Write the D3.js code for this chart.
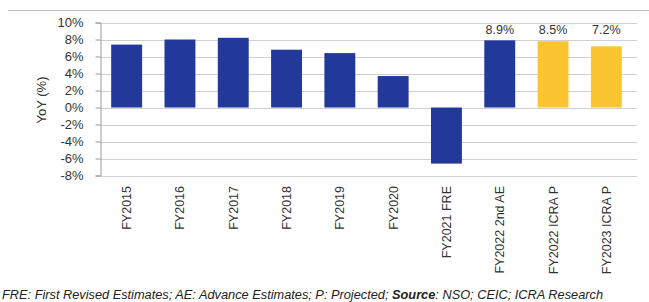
<!DOCTYPE html>
<html>
<head>
<meta charset="utf-8">
<script src="https://cdn.jsdelivr.net/npm/d3@7/dist/d3.min.js"></script>
<style>
  body { margin: 0; background: #fff; }
  svg { display: block; }
</style>
</head>
<body>
<div id="chart"></div>
<script>
const categories = ["FY2015", "FY2016", "FY2017", "FY2018", "FY2019", "FY2020",
  "FY2021 FRE", "FY2022 2nd AE", "FY2022 ICRA P", "FY2023 ICRA P"];
const values = [7.4, 8.0, 8.2, 6.8, 6.4, 3.7, -6.6, 7.9, 7.8, 7.2];
const kinds = ["actual", "actual", "actual", "actual", "actual", "actual",
  "actual", "actual", "projected", "projected"];
const dataLabels = [null, null, null, null, null, null, null, "8.9%", "8.5%", "7.2%"];
const yTicks = [-8, -6, -4, -2, 0, 2, 4, 6, 8, 10];

const width = 649, height = 302;
const svg = d3.select("#chart").append("svg")
  .attr("width", width).attr("height", height);

const x = d3.scaleBand().domain(categories).range([100, 633]).paddingInner(0.42).paddingOuter(0.21);
const y = d3.scaleLinear().domain([-8, 10]).range([175.5, 22.5]);

// cropped frame line at top
svg.append("line")
  .attr("x1", 8).attr("x2", width).attr("y1", 10.5).attr("y2", 10.5)
  .attr("stroke", "#bdbdbd").attr("stroke-width", 1);

// gridlines
svg.append("g")
  .selectAll("line")
  .data(yTicks)
  .join("line")
  .attr("x1", 100).attr("x2", 637)
  .attr("y1", d => Math.round(y(d)) + 0.5).attr("y2", d => Math.round(y(d)) + 0.5)
  .attr("stroke", "#cfcfcf").attr("stroke-width", 1);

// y axis
const yAxis = svg.append("g")
  .attr("transform", "translate(100.5,0)")
  .call(d3.axisLeft(y).tickValues(yTicks).tickSize(5).tickPadding(12).tickFormat(d => d + "%"));
yAxis.select(".domain").attr("stroke", "#9a9a9a");
yAxis.selectAll(".tick line").attr("stroke", "#9a9a9a");
yAxis.selectAll("text")
  .attr("font-family", "Liberation Sans, Arial, sans-serif")
  .attr("font-size", 13).attr("fill", "#333");

svg.append("text")
  .attr("transform", "translate(46,100) rotate(-90)")
  .attr("text-anchor", "middle")
  .attr("font-family", "Liberation Sans, Arial, sans-serif")
  .attr("font-size", 13).attr("fill", "#333")
  .text("YoY (%)");

// bars
const color = { actual: "#22399b", projected: "#fbc531" };
svg.append("g")
  .selectAll("rect")
  .data(categories)
  .join("rect")
  .attr("x", d => x(d))
  .attr("width", x.bandwidth())
  .attr("y", (d, i) => y(Math.max(0, values[i])))
  .attr("height", (d, i) => Math.abs(y(values[i]) - y(0)))
  .attr("fill", (d, i) => color[kinds[i]]);

// data labels
svg.append("g")
  .selectAll("text")
  .data(categories.filter((d, i) => dataLabels[i]))
  .join("text")
  .attr("x", d => x(d) + x.bandwidth() / 2)
  .attr("y", 34)
  .attr("text-anchor", "middle")
  .attr("font-family", "Liberation Sans, Arial, sans-serif")
  .attr("font-size", 12.5).attr("fill", "#333")
  .text(d => dataLabels[categories.indexOf(d)]);

// x labels, rotated
svg.append("g")
  .selectAll("text")
  .data(categories)
  .join("text")
  .attr("transform", d => `translate(${x(d) + x.bandwidth() / 2 + 4.5},186) rotate(-90)`)
  .attr("text-anchor", "end")
  .attr("font-family", "Liberation Sans, Arial, sans-serif")
  .attr("font-size", 12.5).attr("fill", "#333")
  .text(d => d);

// footnote
const note = svg.append("text")
  .attr("x", 2).attr("y", 299)
  .attr("font-family", "Liberation Sans Narrow, Liberation Sans, sans-serif")
  .attr("font-style", "italic")
  .attr("font-size", 12.5).attr("fill", "#222")
  .attr("textLength", 601).attr("lengthAdjust", "spacingAndGlyphs");
note.append("tspan").text("FRE: First Revised Estimates; AE: Advance Estimates; P: Projected; ");
note.append("tspan").attr("font-weight", "bold").text("Source");
note.append("tspan").text(": NSO; CEIC; ICRA Research");
</script>
</body>
</html>
